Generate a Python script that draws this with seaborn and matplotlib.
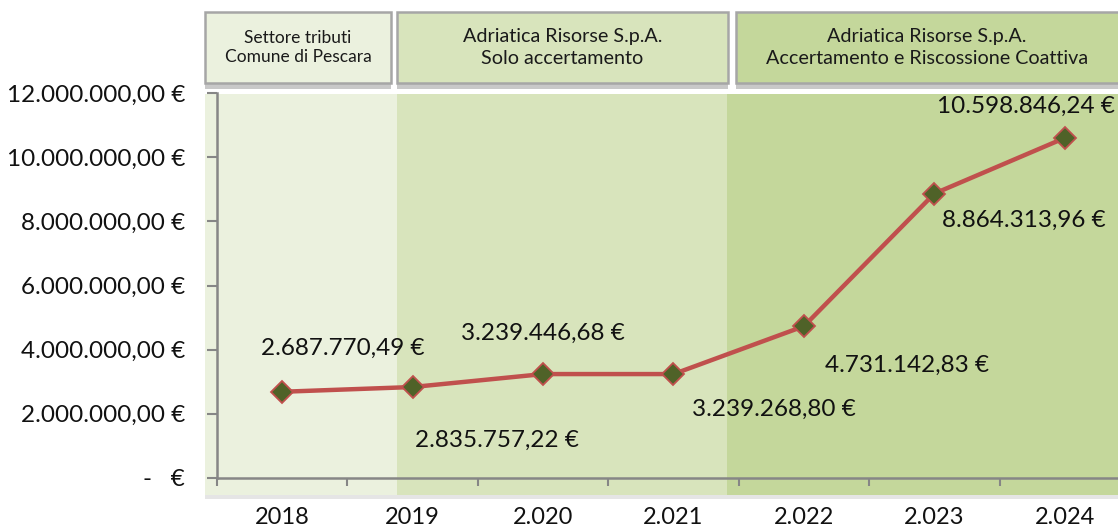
import numpy as np
import pandas as pd
import matplotlib
matplotlib.use("Agg")
import matplotlib.pyplot as plt
import matplotlib.patheffects as pe
from matplotlib.patches import Rectangle
import seaborn as sns

# data
years = ["2018", "2019", "2.020", "2.021", "2.022", "2.023", "2.024"]
values = [2687770.49, 2835757.22, 3239446.68, 3239268.80, 4731142.83, 8864313.96, 10598846.24]
value_labels = ["2.687.770,49 €", "2.835.757,22 €", "3.239.446,68 €", "3.239.268,80 €",
                "4.731.142,83 €", "8.864.313,96 €", "10.598.846,24 €"]
y_ticks = [0, 2e6, 4e6, 6e6, 8e6, 10e6, 12e6]
y_ticklabels = ["-   €", "2.000.000,00 €", "4.000.000,00 €", "6.000.000,00 €",
                "8.000.000,00 €", "10.000.000,00 €", "12.000.000,00 €"]
phases = ["Settore tributi\nComune di Pescara",
          "Adriatica Risorse S.p.A.\nSolo accertamento",
          "Adriatica Risorse S.p.A.\nAccertamento e Riscossione Coattiva"]

# label offsets in pixels (placement only)
label_off = [(61, 43), (84, -53), (0, 41), (100, -35), (103, -39), (89, -27), (-39, 32)]

df = pd.DataFrame({"pos": range(len(years)), "value": values})

W, H = 1118, 529
sns.set_theme(style="white")
plt.rcParams["font.family"] = ["Lato", "DejaVu Sans"]

fig = plt.figure(figsize=(W / 100, H / 100), dpi=100)
fig.patch.set_facecolor("white")

def fx(x):
    return x / W

def fy(y):
    return 1 - y / H

# background bands
band_cols = ["#EBF1DE", "#D8E4BC", "#C4D79B"]
band_x = [(205, 397), (397, 727), (727, 1130)]
shadow = [pe.SimplePatchShadow(offset=(0, -3), shadow_rgbFace="#999999", alpha=0.25), pe.Normal()]
for (x0, x1), c in zip(band_x, band_cols):
    r = Rectangle((fx(x0), fy(495)), fx(x1 - x0), (495 - 94) / H, transform=fig.transFigure,
                  facecolor=c, edgecolor="none", zorder=0, path_effects=shadow)
    fig.add_artist(r)

# header boxes
box_x = [(205, 391), (397, 728), (736, 1125)]
box_fs = [12.5, 14.2, 14.2]
for (x0, x1), c, t, fs in zip(box_x, band_cols, phases, box_fs):
    r = Rectangle((fx(x0), fy(83)), fx(x1 - x0), (83 - 12) / H, transform=fig.transFigure,
                  facecolor=c, edgecolor="#A6A6A6", linewidth=1.8, zorder=0,
                  path_effects=[pe.SimplePatchShadow(offset=(0, -4), shadow_rgbFace="#777777", alpha=0.4), pe.Normal()])
    fig.add_artist(r)
    fig.text(fx((x0 + min(x1, 1118)) / 2), fy(47.5), t, ha="center", va="center",
             fontsize=fs, color="#1a1a1a", linespacing=1.3)

ax = fig.add_axes([fx(217), fy(478), (1130 - 217) / W, (478 - 93) / H])
ax.set_zorder(2)
ax.patch.set_visible(False)

sns.lineplot(data=df, x="pos", y="value", ax=ax, color="#C0504D", linewidth=3.2,
             marker="D", markersize=11, markerfacecolor="#4F6228",
             markeredgecolor="#C0504D", markeredgewidth=1.3, zorder=3)

for i, (v, lab) in enumerate(zip(values, value_labels)):
    ax.annotate(lab, (i, v), xytext=label_off[i], textcoords="offset pixels",
                ha="center", va="center", fontsize=17.5, color="#111111")

ax.set_xlim(-0.5, 6.5)
ax.set_ylim(0, 12e6)
ax.set_xticks(range(len(years)))
ax.set_xticklabels(years, fontsize=17, color="#111111")
ax.set_xticks(np.arange(-0.5, 6.6, 1), minor=True)
ax.tick_params(axis="x", which="major", length=0, pad=21)
ax.tick_params(axis="x", which="minor", length=6, width=1.5, color="#868686", direction="out", bottom=True)
ax.set_yticks(y_ticks)
ax.set_yticklabels(y_ticklabels, fontsize=17.5, color="#111111")
ax.tick_params(axis="y", length=7, width=1.5, color="#868686", direction="out", left=True, pad=16)
ax.set_xlabel("")
ax.set_ylabel("")
for s in ["top", "right"]:
    ax.spines[s].set_visible(False)
for s in ["left", "bottom"]:
    ax.spines[s].set_color("#868686")
    ax.spines[s].set_linewidth(1.8)
ax.grid(False)

fig.savefig("out.png", dpi=100)
